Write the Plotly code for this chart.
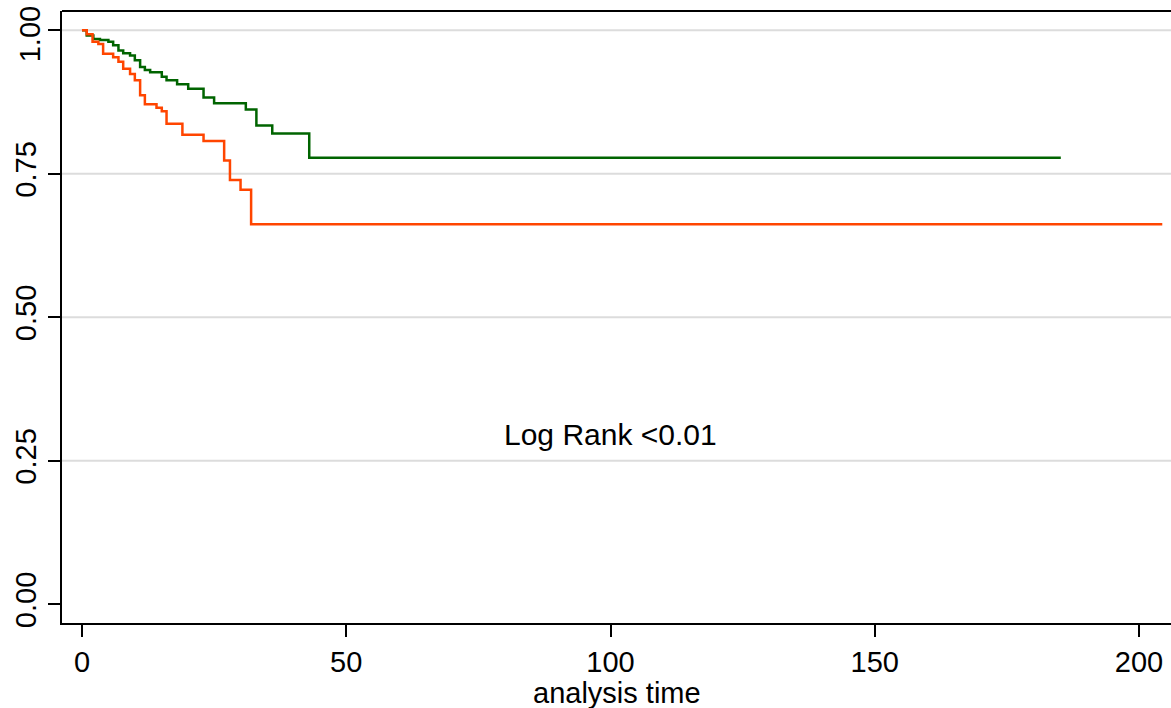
import plotly.graph_objects as go

# Kaplan-Meier step curves (time, survival)
green_time = [0, 0.9, 2.15, 3.4, 5.0, 5.9, 6.9, 7.8, 9.1, 10.0, 11.0, 11.9, 12.9, 15.1,
              16.0, 18.0, 20.1, 23.0, 25.0, 31.0, 33.0, 36.0, 43.0, 185.2]
green_surv = [1.0, 0.991, 0.985, 0.983, 0.980, 0.974, 0.965, 0.960, 0.956, 0.948, 0.936,
              0.931, 0.927, 0.919, 0.913, 0.906, 0.898, 0.883, 0.873, 0.862, 0.834, 0.820,
              0.778, 0.778]

orange_time = [0, 0.9, 2.0, 3.1, 4.0, 5.9, 6.9, 7.8, 9.1, 10.0, 11.0, 11.9, 14.1, 15.1,
               16.0, 19.0, 23.0, 26.9, 28.0, 30.0, 32.0, 204.4]
orange_surv = [1.0, 0.993, 0.980, 0.976, 0.959, 0.953, 0.945, 0.933, 0.924, 0.913, 0.887,
               0.871, 0.865, 0.859, 0.837, 0.818, 0.807, 0.773, 0.739, 0.722, 0.662, 0.662]

x_ticks = [0, 50, 100, 150, 200]
y_ticks = [0.0, 0.25, 0.5, 0.75, 1.0]
y_ticklabels = ["0.00", "0.25", "0.50", "0.75", "1.00"]
grid_levels = [0.25, 0.5, 0.75, 1.0]
x_title = "analysis time"
note_text = "Log Rank <0.01"

FONT = "Liberation Sans, Arial, Helvetica, sans-serif"
TICK_SIZE = 29

# the top y label is drawn as an annotation (nudged down so it is not cut by the page edge)
top_index = len(y_ticks) - 1
y_tick_display = [t if i != top_index else "" for i, t in enumerate(y_ticklabels)]

fig = go.Figure()
fig.add_trace(go.Scatter(x=green_time, y=green_surv, mode="lines",
                         line=dict(color="#006400", width=2.5, shape="hv"),
                         showlegend=False, hoverinfo="skip"))
fig.add_trace(go.Scatter(x=orange_time, y=orange_surv, mode="lines",
                         line=dict(color="#FF4500", width=2.5, shape="hv"),
                         showlegend=False, hoverinfo="skip"))

shapes = []
for g in grid_levels:
    shapes.append(dict(type="line", xref="paper", x0=0, x1=1, yref="y", y0=g, y1=g,
                       line=dict(color="#dcdcdc", width=2), layer="below"))
# top border
shapes.append(dict(type="line", xref="paper", x0=0, x1=1, yref="paper", y0=1, y1=1,
                   line=dict(color="black", width=2)))

fig.update_layout(
    width=1171, height=708,
    margin=dict(l=62, r=0, t=11, b=85, autoexpand=False),
    paper_bgcolor="white", plot_bgcolor="white",
    font=dict(family=FONT, size=TICK_SIZE, color="black"),
    shapes=shapes,
    annotations=[
        dict(x=100, y=0.295, xref="x", yref="y", text=note_text,
             showarrow=False, font=dict(family=FONT, size=30, color="black"),
             xanchor="center", yanchor="middle"),
        dict(x=0.5, y=0, xref="paper", yref="paper", text=x_title,
             showarrow=False, font=dict(family=FONT, size=TICK_SIZE, color="black"),
             xanchor="center", yanchor="top", yshift=-53, borderpad=0),
        dict(x=0, y=y_ticks[top_index], xref="paper", yref="y", text=y_ticklabels[top_index],
             showarrow=False, textangle=-90, font=dict(family=FONT, size=TICK_SIZE, color="black"),
             xanchor="right", yanchor="middle", xshift=-15, yshift=-4, borderpad=0),
    ],
    xaxis=dict(range=[-3.78, 206.05], tickvals=x_ticks, ticks="outside", ticklen=12,
               tickwidth=2, tickcolor="black", showline=True, linecolor="black",
               linewidth=2, showgrid=False, zeroline=False, automargin=False,
               tickfont=dict(size=TICK_SIZE), ticklabeloverflow="allow"),
    yaxis=dict(range=[-0.0326, 1.0336], tickvals=y_ticks, ticktext=y_tick_display,
               ticks="outside", ticklen=12, tickwidth=2, tickcolor="black",
               showline=True, linecolor="black", linewidth=2, showgrid=False,
               zeroline=False, tickangle=-90, automargin=False,
               tickfont=dict(size=TICK_SIZE), ticklabeloverflow="allow"),
)

fig.write_html("out.html", config={"displayModeBar": False},
               post_script="document.body.style.margin='0';document.body.style.overflow='hidden';")
